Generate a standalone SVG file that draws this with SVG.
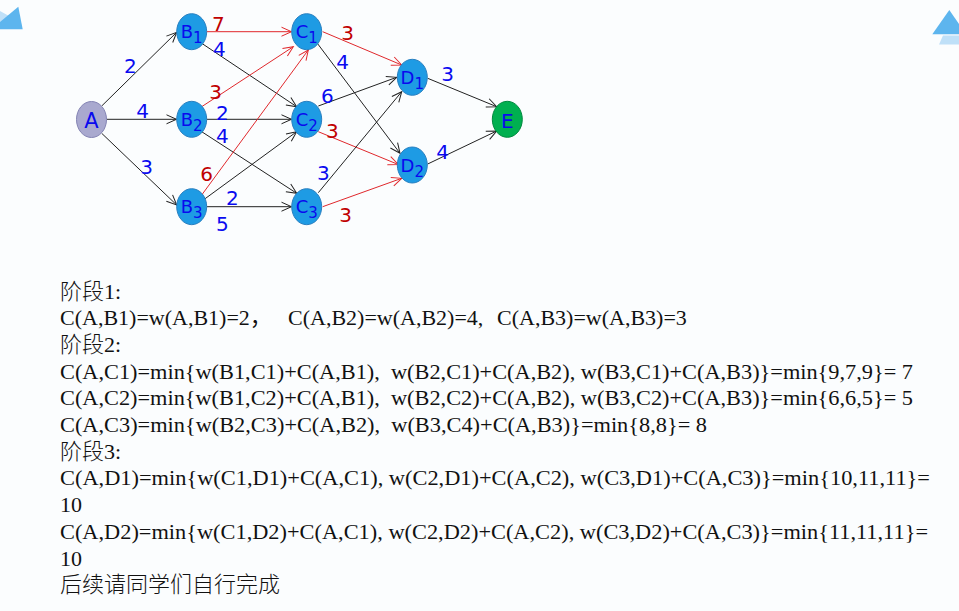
<svg xmlns="http://www.w3.org/2000/svg" width="959" height="611" viewBox="0 0 959 611">
<style>
.bg{fill:#fbfdfe}
.e{stroke:#222;stroke-width:1;fill:none}
.r{stroke:#e0282c;stroke-width:1;fill:none}
.n{fill:#1e9be4;stroke:#2a80c0;stroke-width:1}
.na{fill:#a9a9cf;stroke:#8484b4;stroke-width:1}
.ne{fill:#00b050;stroke:#00893e;stroke-width:1}
.lb{font-family:"DejaVu Sans",Verdana,sans-serif;font-size:18px;fill:#0a0aee;text-anchor:middle}
.sb{font-size:15px}
.w{font-family:"DejaVu Sans",Verdana,sans-serif;font-size:20px;text-anchor:middle}
.wb{fill:#0a0af0}
.wr{fill:#c00000}
.t{font-family:"Liberation Serif","Times New Roman","Noto Sans CJK SC",serif;font-size:22px;fill:#111}
.cj{font-weight:300}
</style>
<defs>
<marker id="ab" markerUnits="userSpaceOnUse" markerWidth="12" markerHeight="10" refX="10" refY="4.5" orient="auto" overflow="visible">
<path d="M0,0 L10,4.5 L0,9" fill="none" stroke="#222" stroke-width="1"/>
</marker>
<marker id="ar" markerUnits="userSpaceOnUse" markerWidth="12" markerHeight="10" refX="10" refY="4.5" orient="auto" overflow="visible">
<path d="M0,0 L10,4.5 L0,9" fill="none" stroke="#e0282c" stroke-width="1"/>
</marker>
</defs>
<rect class="bg" x="0" y="0" width="959" height="611"/>
<g id="decor">
<polygon points="0,11 10,16.5 0,24" fill="#bfe0f8"/>
<polygon points="0,22 18.3,6.7 22.7,29.3 0,29.3" fill="#5db5ee"/>
<polygon points="943,35.5 959,35.5 959,44.5 939,44.5" fill="#bfe0f8"/>
<polygon points="932.3,34.3 949.3,10 959,24 959,34.3" fill="#5db5ee"/>
</g>
<g id="connectors">
<line class="e" x1="101.7" y1="106" x2="176.7" y2="32.3" marker-end="url(#ab)"/>
<line class="e" x1="106.7" y1="119.3" x2="176.5" y2="119.3" marker-end="url(#ab)"/>
<line class="e" x1="101.7" y1="133.3" x2="176.7" y2="205" marker-end="url(#ab)"/>
<line class="r" x1="206.7" y1="31.7" x2="291.5" y2="31.7" marker-end="url(#ar)"/>
<line class="e" x1="201.7" y1="43.3" x2="296.7" y2="106.7" marker-end="url(#ab)"/>
<line class="r" x1="201.7" y1="106.7" x2="293.3" y2="46.7" marker-end="url(#ar)"/>
<line class="e" x1="206.7" y1="119.3" x2="291.5" y2="119.3" marker-end="url(#ab)"/>
<line class="e" x1="201.7" y1="131.7" x2="296.7" y2="193.3" marker-end="url(#ab)"/>
<line class="r" x1="201.7" y1="195" x2="308.3" y2="50" marker-end="url(#ar)"/>
<line class="e" x1="203.3" y1="200" x2="296.7" y2="131.7" marker-end="url(#ab)"/>
<line class="e" x1="206.7" y1="206.7" x2="291.5" y2="206.7" marker-end="url(#ab)"/>
<line class="r" x1="322.7" y1="31.7" x2="401.7" y2="65" marker-end="url(#ar)"/>
<line class="e" x1="317.3" y1="43.3" x2="400" y2="153.3" marker-end="url(#ab)"/>
<line class="e" x1="318.3" y1="106" x2="396.7" y2="77.3" marker-end="url(#ab)"/>
<line class="r" x1="318.3" y1="131.7" x2="398.3" y2="164.5" marker-end="url(#ar)"/>
<line class="e" x1="318.3" y1="192.7" x2="401.7" y2="91.7" marker-end="url(#ab)"/>
<line class="r" x1="322.7" y1="206.7" x2="401.7" y2="178.3" marker-end="url(#ar)"/>
<line class="e" x1="427.7" y1="78.3" x2="496.7" y2="106.7" marker-end="url(#ab)"/>
<line class="e" x1="427.7" y1="164" x2="496.7" y2="131" marker-end="url(#ab)"/>
</g>
<g id="weights">
<text class="w wb" x="130.3" y="73">2</text>
<text class="w wb" x="142.7" y="117.5">4</text>
<text class="w wb" x="146.7" y="174">3</text>
<text class="w wr" x="218.3" y="30.8">7</text>
<text class="w wb" x="219.3" y="55.8">4</text>
<text class="w wr" x="215.7" y="99.2">3</text>
<text class="w wb" x="222.3" y="119.8">2</text>
<text class="w wb" x="222.3" y="142.5">4</text>
<text class="w wr" x="206.7" y="180.8">6</text>
<text class="w wb" x="232.3" y="204.8">2</text>
<text class="w wb" x="222.3" y="230.8">5</text>
<text class="w wr" x="347.7" y="39.8">3</text>
<text class="w wb" x="342.7" y="69.2">4</text>
<text class="w wb" x="327.3" y="103.2">6</text>
<text class="w wr" x="332.3" y="138.2">3</text>
<text class="w wb" x="323.3" y="179.8">3</text>
<text class="w wr" x="345.7" y="221.8">3</text>
<text class="w wb" x="447.7" y="80.8">3</text>
<text class="w wb" x="442.7" y="158.5">4</text>
</g>
<g id="A"><ellipse class="na" cx="91.5" cy="119.5" rx="15" ry="18"/><text class="lb" x="91.5" y="127.5" style="font-size:21px">A</text></g>
<g id="B1"><ellipse class="n" cx="191.7" cy="31.7" rx="15" ry="18"/><text class="lb" x="191.7" y="38.3">B<tspan class="sb" dy="5">1</tspan></text></g>
<g id="B2"><ellipse class="n" cx="191.7" cy="119.3" rx="15" ry="18"/><text class="lb" x="191.7" y="125.9">B<tspan class="sb" dy="5">2</tspan></text></g>
<g id="B3"><ellipse class="n" cx="191.7" cy="206.7" rx="15" ry="18"/><text class="lb" x="191.7" y="213.3">B<tspan class="sb" dy="5">3</tspan></text></g>
<g id="C1"><ellipse class="n" cx="306.7" cy="31.7" rx="15" ry="18"/><text class="lb" x="306.7" y="38.3">C<tspan class="sb" dy="5">1</tspan></text></g>
<g id="C2"><ellipse class="n" cx="306.7" cy="119.3" rx="15" ry="18"/><text class="lb" x="306.7" y="125.9">C<tspan class="sb" dy="5">2</tspan></text></g>
<g id="C3"><ellipse class="n" cx="306.7" cy="206.7" rx="15" ry="18"/><text class="lb" x="306.7" y="213.3">C<tspan class="sb" dy="5">3</tspan></text></g>
<g id="D1"><ellipse class="n" cx="412.3" cy="77.3" rx="15" ry="18"/><text class="lb" x="412.3" y="83.9">D<tspan class="sb" dy="5">1</tspan></text></g>
<g id="D2"><ellipse class="n" cx="412.3" cy="165" rx="15" ry="18"/><text class="lb" x="412.3" y="171.6">D<tspan class="sb" dy="5">2</tspan></text></g>
<g id="E"><ellipse class="ne" cx="507.3" cy="119.3" rx="15" ry="18"/><text class="lb" x="507.3" y="127.5" style="font-size:20px">E</text></g>
<g id="notes">
<text class="t cj" x="60" y="298.5">阶段1:</text>
<text class="t" y="325.2"><tspan x="60">C(A,B1)=w(A,B1)=2，</tspan><tspan x="288">C(A,B2)=w(A,B2)=4,</tspan><tspan x="497">C(A,B3)=w(A,B3)=3</tspan></text>
<text class="t cj" x="60" y="351.9">阶段2:</text>
<text class="t" x="60" y="378.6" xml:space="preserve" textLength="853" lengthAdjust="spacingAndGlyphs">C(A,C1)=min{w(B1,C1)+C(A,B1),  w(B2,C1)+C(A,B2), w(B3,C1)+C(A,B3)}=min{9,7,9}= 7</text>
<text class="t" x="60" y="405.3" xml:space="preserve" textLength="853" lengthAdjust="spacingAndGlyphs">C(A,C2)=min{w(B1,C2)+C(A,B1),  w(B2,C2)+C(A,B2), w(B3,C2)+C(A,B3)}=min{6,6,5}= 5</text>
<text class="t" x="60" y="432" xml:space="preserve" textLength="647" lengthAdjust="spacingAndGlyphs">C(A,C3)=min{w(B2,C3)+C(A,B2),  w(B3,C4)+C(A,B3)}=min{8,8}= 8</text>
<text class="t cj" x="60" y="458.7">阶段3:</text>
<text class="t" x="60" y="485.4" textLength="870" lengthAdjust="spacingAndGlyphs">C(A,D1)=min{w(C1,D1)+C(A,C1), w(C2,D1)+C(A,C2), w(C3,D1)+C(A,C3)}=min{10,11,11}=</text>
<text class="t" x="60" y="512.1">10</text>
<text class="t" x="60" y="538.8" textLength="868" lengthAdjust="spacingAndGlyphs">C(A,D2)=min{w(C1,D2)+C(A,C1), w(C2,D2)+C(A,C2), w(C3,D2)+C(A,C3)}=min{11,11,11}=</text>
<text class="t" x="60" y="565.5">10</text>
<text class="t cj" x="60" y="592.2">后续请同学们自行完成</text>
</g>
</svg>
